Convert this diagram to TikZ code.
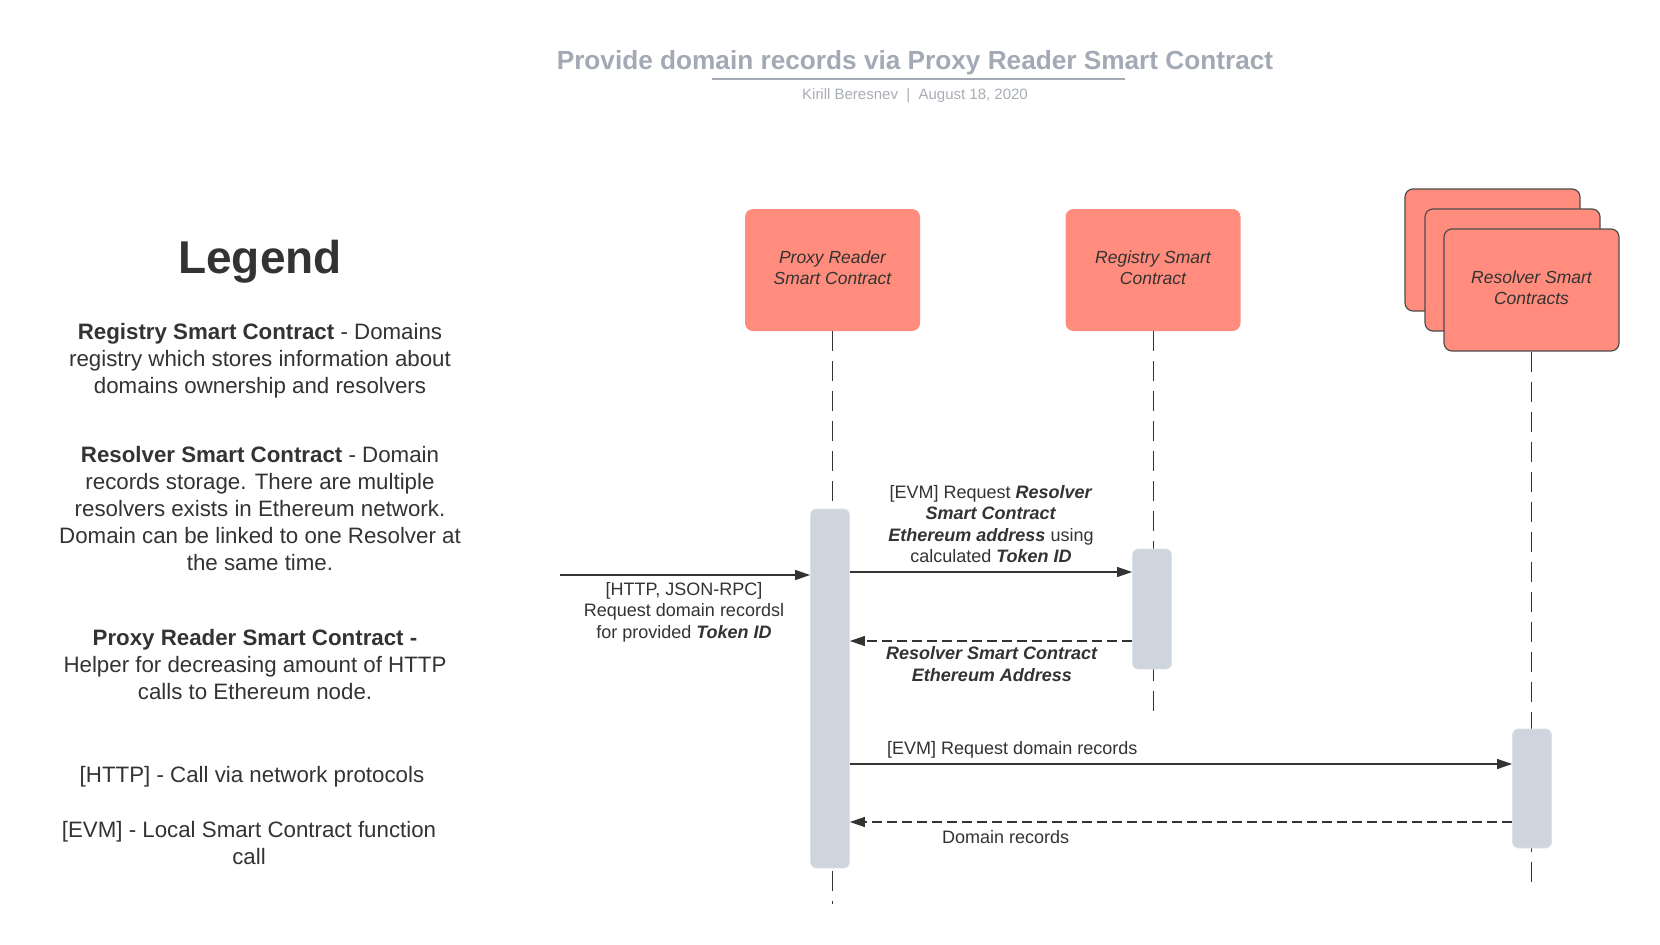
\documentclass[tikz,border=0pt]{standalone}
\usepackage{fontspec}
\setmainfont{Liberation Sans}
\usetikzlibrary{arrows.meta}
\definecolor{salmon}{HTML}{FF8C7D}
\definecolor{barc}{HTML}{CED5DE}
\definecolor{txt}{HTML}{333333}
\definecolor{edge}{HTML}{4D4D4D}
\definecolor{titlec}{HTML}{A3A9B5}
\definecolor{subc}{HTML}{A9ADB5}
\begin{document}
\begin{tikzpicture}[x=1pt,y=-1pt,
  actor/.style={fill=salmon, rounded corners=8pt, minimum width=175pt, minimum height=122pt,
    inner sep=0pt},
  stackbox/.style={actor, draw=edge, line width=1.2pt},
  boxtxt/.style={inner sep=0pt, align=center, font=\fontsize{17.5}{21}\selectfont\itshape, text=txt},
  bar/.style={fill=barc, draw=barc!70!white, line width=0.8pt, rounded corners=6pt,
    minimum width=39pt, inner sep=0pt},
  life/.style={draw=txt, line width=1pt, dash pattern=on 20pt off 10pt},
  msg/.style={draw=txt, line width=1.2pt, -{Triangle[length=15pt,width=10pt]}},
  reply/.style={msg, dash pattern=on 10pt off 5pt},
  lbl/.style={font=\fontsize{18}{21.5}\selectfont, text=txt, align=center, inner sep=0pt},
  legtxt/.style={font=\fontsize{22.3}{27}\selectfont, text=txt, align=center, inner sep=0pt}
]
\useasboundingbox[fill=white] (0,0) rectangle (1660,945);

% title
\node[font=\fontsize{26.2}{30}\selectfont\bfseries, text=titlec] (title) at (915,63)
  {Provide domain records via Proxy Reader Smart Contract};
\coordinate (ulA) at (712,79);
\coordinate (ulB) at (1125,79);
\draw[titlec, line width=2pt] (ulA) -- (ulB);
\node[font=\fontsize{15}{18}\selectfont, text=subc] (sub) at (915,96)
  {Kirill Beresnev\ \ |\ \ August 18, 2020};

% legend
\node[font=\fontsize{46}{50}\selectfont\bfseries, text=txt, inner sep=0pt] (legend) at (260,262) {Legend};
\node[legtxt] (lreg) at (260,361) {\textbf{Registry Smart Contract} - Domains\\registry which stores information about\\domains ownership and resolvers};
\node[legtxt] (lres) at (260,509) {\textbf{Resolver Smart Contract} - Domain\\records storage. There are multiple\\resolvers exists in Ethereum network.\\Domain can be linked to one Resolver at\\the same time.};
\node[legtxt] (lprx) at (255,665) {\textbf{Proxy Reader Smart Contract -}\\Helper for decreasing amount of HTTP\\calls to Ethereum node.};
\node[legtxt] (lhttp) at (252,777) {[HTTP] - Call via network protocols};
\node[legtxt] (levm) at (249,843) {[EVM] - Local Smart Contract function\\call};

% participants
\node[actor] (proxy) at (832.5,270) {};
\node[boxtxt] (proxyT) at ([yshift=2pt]proxy.center) {Proxy Reader\\Smart Contract};
\node[actor] (registry) at (1153,270) {};
\node[boxtxt] (registryT) at ([yshift=2pt]registry.center) {Registry Smart\\Contract};
\node[stackbox] (res1) at (1492.5,250) {};
\node[stackbox] (res2) at (1512.5,270) {};
\node[stackbox] (res3) at (1531.5,290) {};
\node[boxtxt] (res3T) at ([yshift=2pt]res3.center) {Resolver Smart\\Contracts};

% lifelines
\coordinate (pend) at (832.5,904);
\coordinate (gend) at (1153,713);
\coordinate (send) at (1531.5,886);
\draw[life] (proxy.south) -- (pend);
\draw[life] (registry.south) -- (gend);
\draw[life] (res3.south) -- (send);

% activation bars
\node[bar, minimum height=359pt] (pbar) at (830,688.5) {};
\node[bar, minimum height=120pt] (gbar) at (1152,609) {};
\node[bar, minimum height=119pt] (sbar) at (1532,788.5) {};

% messages
\coordinate (src) at (560,575);
\coordinate (y1) at (0,572);
\coordinate (y2) at (0,641);
\coordinate (y3) at (0,764);
\coordinate (y4) at (0,822);
\draw[msg] (src) -- (pbar.west |- src);
\draw[msg] (pbar.east |- y1) -- (gbar.west |- y1);
\draw[reply] (gbar.west |- y2) -- (pbar.east |- y2);
\draw[msg] (pbar.east |- y3) -- (sbar.west |- y3);
\draw[reply] (sbar.west |- y4) -- (pbar.east |- y4);

% labels
\node[lbl] (l0) at (684,612) {[HTTP, JSON-RPC]\\Request domain recordsl\\for provided \textbf{\textit{Token ID}}};
\node[lbl] (l1) at (991,524) {[EVM] Request \textbf{\textit{Resolver}}\\\textbf{\textit{Smart Contract}}\\\textbf{\textit{Ethereum address}} using\\calculated \textbf{\textit{Token ID}}};
\node[lbl] (l2) at (992,664) {\textbf{\textit{Resolver Smart Contract}}\\\textbf{\textit{Ethereum Address}}};
\node[lbl, anchor=west] (l3) at (887,750) {[EVM] Request domain records};
\node[lbl, anchor=west] (l4) at (942,837) {Domain records};
\end{tikzpicture}
\end{document}
